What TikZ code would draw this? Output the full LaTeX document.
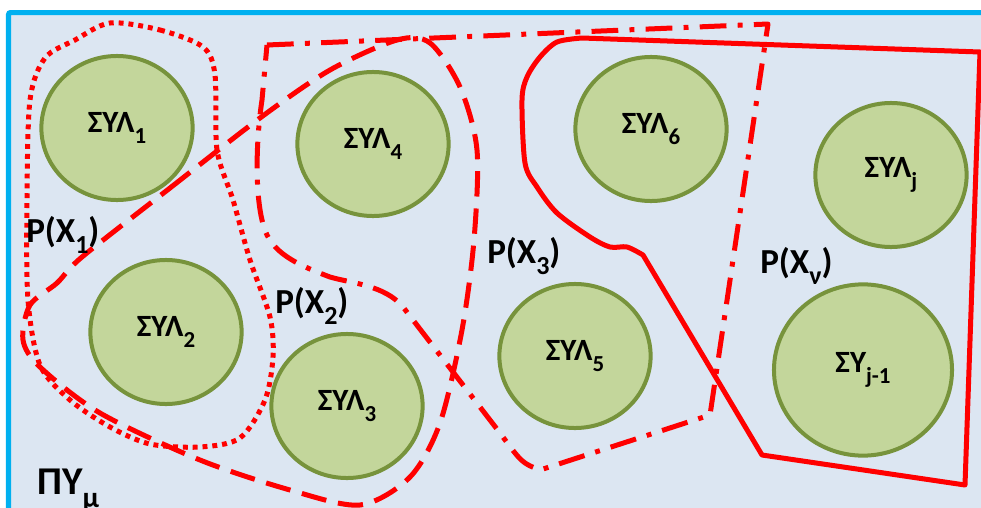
\documentclass[tikz,border=0pt]{standalone}
\usepackage{fontspec}
\setmainfont{Carlito}
\usepackage{graphicx}
\usetikzlibrary{shapes.geometric}

\definecolor{paneblue}{HTML}{DCE6F2}
\definecolor{frameblue}{HTML}{00B0F0}
\definecolor{sylfill}{HTML}{C3D69B}
\definecolor{sylline}{HTML}{77933C}

\newcommand{\lo}[1]{\raisebox{-0.34em}{\scalebox{0.74}{#1}}}

\begin{document}
\begin{tikzpicture}[x=0.025cm,y=-0.025cm,
  syl/.style={ellipse,draw=sylline,fill=sylfill,line width=0.1cm,
    minimum width=3.78cm,minimum height=3.6cm,inner sep=0pt,
    font=\fontsize{22}{24}\selectfont\bfseries},
  plbl/.style={anchor=base west,inner sep=0pt,
    font=\fontsize{25}{28}\selectfont\bfseries},
  part/.style={red,line width=0.125cm,line join=round},
  xone/.style={part,dash pattern=on 3.5pt off 3.5pt},
  xtwo/.style={part,dash pattern=on 18pt off 8.5pt},
  xthree/.style={part,dash pattern=on 19pt off 8pt on 3.5pt off 8pt},
  xnu/.style={part}]
  \useasboundingbox (0,0) rectangle (981,507);
  \clip (0,0) rectangle (981,507);
  \fill[white] (0,0) rectangle (981,507);
  \draw[frameblue,fill=paneblue,line width=0.125cm,rounded corners=0.05cm]
    (8.5,12.5) rectangle (1000,530);

  % subsystems
  \node[syl] (syl1) at (117,128) {ΣΥΛ\lo{1}};
  \node[syl] (syl2) at (166,332) {ΣΥΛ\lo{2}};
  \node[syl] (syl3) at (347,406) {ΣΥΛ\lo{3}};
  \node[syl] (syl4) at (373,144) {ΣΥΛ\lo{4}};
  \node[syl] (syl5) at (575,356) {ΣΥΛ\lo{5}};
  \node[syl] (syl6) at (651,129) {ΣΥΛ\lo{6}};
  \node[syl] (sylj) at (891,175) {ΣΥΛ\lo{j}};
  \node[syl,minimum width=4.45cm,minimum height=4.28cm] (syljm) at (863,370) {ΣΥ\lo{j-1}};

  % partitions
  \draw[xone] plot[smooth cycle] coordinates {(110,23) (160,30) (203,47) (215,75)
    (217,150) (233,200) (250,260) (270,317) (273,357) (265,400) (240,438)
    (200,447) (150,444) (110,427) (70,400) (40,365) (28,300) (27,200) (30,100)
    (45,58) (75,40)};
  \draw[xtwo] plot[smooth cycle] coordinates {(82,257) (170,188) (260,118) (330,70)
    (397,40) (430,43) (460,87) (477,150) (474,240) (462,330) (440,423) (410,477)
    (360,505) (290,490) (200,460) (100,413) (40,367) (23,340) (30,305) (57,283)};
  \draw[xthree] (267,45) -- (768,24) -- (710,415) -- (540,470)
    .. controls (522,463) .. (500,433) -- (403,307)
    .. controls (385,285) and (350,283) .. (330,277)
    .. controls (290,262) and (268,250) .. (262,220)
    .. controls (255,190) and (256,140) .. (262,100) -- cycle;
  \draw[xnu] plot[smooth] coordinates {(643,255) (627,247) (610,247) (590,237)
    (557,213) (537,187) (525,163) (522,100) (527,77) (540,57) (557,42) (582,38)}
    -- (980,52) -- (965,485) -- (762,455) -- cycle;

  % labels
  \node[plbl] (px1) at (26,242) {P(X\lo{1})};
  \node[plbl] (px2) at (275,313) {P(X\lo{2})};
  \node[plbl] (px3) at (487,263) {P(X\lo{3})};
  \node[plbl] (pxnu) at (760,273) {P(X\lo{ν})};
  \node[plbl,font=\fontsize{28}{30}\selectfont\bfseries] (pym) at (37,494) {ΠΥ\lo{μ}};
\end{tikzpicture}
\end{document}
